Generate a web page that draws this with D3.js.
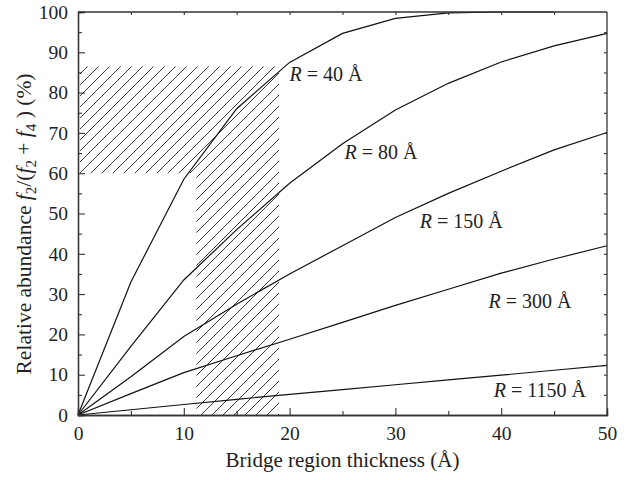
<!DOCTYPE html>
<html><head><meta charset="utf-8">
<script src="https://cdn.jsdelivr.net/npm/d3@7"></script>
<style>body{margin:0;background:#fff}svg{display:block}text{font-family:"Liberation Serif","DejaVu Serif",serif;fill:#222}</style>
</head><body><svg id="c" width="635" height="480"></svg>
<script>
const xs = [0,5,10,15,20,25,30,35,40,45,50];
const r40 = [0,33,58.5,76,87.5,94.7,98.4,99.8,100,100];
const r80 = [0,17,33.5,46,57.5,67.3,75.7,82.3,87.6,91.6,94.7];
const r150 = [0,9.5,19.5,27.5,35,42,49,55,60.5,65.8,70.1];
const r300 = [0,5.3,10.5,14.7,18.8,23,27.2,31.2,35.2,38.7,42];
const r1150 = [0,1.3,2.6,3.9,5.1,6.3,7.5,8.7,9.9,11.1,12.3];
const seriesNames = ["40","80","150","300","1150"];
const labelPos = [[20.0,83],[25.2,63.5],[32.3,46.5],[38.8,26.5],[39.3,4.5]];
const xTicks = [0,10,20,30,40,50];
const yTicks = [0,10,20,30,40,50,60,70,80,90,100];
const hatchA = {x0:0,x1:19,y0:60,y1:86.5};
const hatchB = {x0:11,x1:19,y0:0,y1:60};

const svg = d3.select("#c");
const m = {l:78,r:28,t:12,b:65};
const W = 635, H = 480;
const x = d3.scaleLinear().domain([0,50]).range([m.l, W-m.r]);
const y = d3.scaleLinear().domain([0,100]).range([H-m.b, m.t]);

// hatch pattern
const defs = svg.append("defs");
const pat = defs.append("pattern").attr("id","hatch").attr("patternUnits","userSpaceOnUse")
  .attr("width",11).attr("height",11);
pat.append("path").attr("d","M-1,1 L1,-1 M0,11 L11,0 M10,12 L12,10")
  .attr("stroke","#3a3a3a").attr("stroke-width",1);
[hatchA,hatchB].forEach(h=>{
  svg.append("rect").attr("x",x(h.x0)+2).attr("y",y(h.y1)).attr("width",x(h.x1)-x(h.x0)-2)
    .attr("height",y(h.y0)-y(h.y1)).attr("fill","url(#hatch)");
});

// curves
const all = [r40,r80,r150,r300,r1150];
const line = d3.line().x((d,i)=>x(xs[i])).y(d=>y(d));
all.forEach(s=>{
  svg.append("path").datum(s).attr("d",line).attr("fill","none").attr("stroke","#111").attr("stroke-width",1.2);
});

// axes
const axCol="#333";
const gB = svg.append("g").attr("transform",`translate(0,${y(0)})`);
gB.call(d3.axisBottom(x).tickValues(xTicks).tickSize(-7).tickPadding(11).tickFormat(d3.format("d")));
const gBm = svg.append("g").attr("transform",`translate(0,${y(0)})`);
gBm.call(d3.axisBottom(x).tickValues([5,15,25,35,45]).tickSize(-4).tickFormat(""));
const gL = svg.append("g").attr("transform",`translate(${x(0)},0)`);
gL.call(d3.axisLeft(y).tickValues(yTicks).tickSize(-7).tickPadding(10).tickFormat(d3.format("d")));
const gLm = svg.append("g").attr("transform",`translate(${x(0)},0)`);
gLm.call(d3.axisLeft(y).tickValues(d3.range(5,100,10)).tickSize(-4).tickFormat(""));
const gT = svg.append("g").attr("transform",`translate(0,${y(100)})`);
gT.call(d3.axisTop(x).tickValues(d3.range(5,50,5)).tickSize(-3).tickFormat(""));
const gR = svg.append("g").attr("transform",`translate(${x(50)},0)`);
gR.call(d3.axisRight(y).tickValues(d3.range(5,100,5)).tickSize(-3).tickFormat(""));
svg.selectAll(".domain").attr("stroke",axCol).attr("stroke-width",1.3);
svg.selectAll(".tick line").attr("stroke",axCol).attr("stroke-width",1.1);
svg.selectAll(".tick text").style("font-family",'"Liberation Serif",serif').style("font-size","19.5px").attr("fill","#222");
gT.select(".domain").attr("d",`M${x(0)},0H${x(50)}`);
gR.select(".domain").attr("d",`M0,${y(0)}V${y(100)}`);

// labels
seriesNames.forEach((n,i)=>{
  const t = svg.append("text").attr("x",x(labelPos[i][0])).attr("y",y(labelPos[i][1])).style("font-size","20px");
  t.append("tspan").style("font-style","italic").text("R");
  t.append("tspan").text(" = "+n+" Å");
});

// axis titles
svg.append("text").attr("x",(x(0)+x(50))/2).attr("y",467).attr("text-anchor","middle").style("font-size","21px")
  .text("Bridge region thickness (Å)");
const yt = svg.append("text").attr("transform",`translate(31,224) rotate(-90)`)
  .attr("text-anchor","middle").style("font-size","21.5px");
yt.append("tspan").text("Relative abundance ");
yt.append("tspan").style("font-style","italic").text("f");
yt.append("tspan").attr("dy",5).style("font-size","15px").text("2");
yt.append("tspan").attr("dy",-5).text("/(");
yt.append("tspan").style("font-style","italic").text("f");
yt.append("tspan").attr("dy",5).style("font-size","15px").text("2");
yt.append("tspan").attr("dy",-5).text(" + ");
yt.append("tspan").style("font-style","italic").text("f");
yt.append("tspan").attr("dy",5).style("font-size","15px").text("4");
yt.append("tspan").attr("dy",-5).text(" )  (%)");
</script></body></html>
